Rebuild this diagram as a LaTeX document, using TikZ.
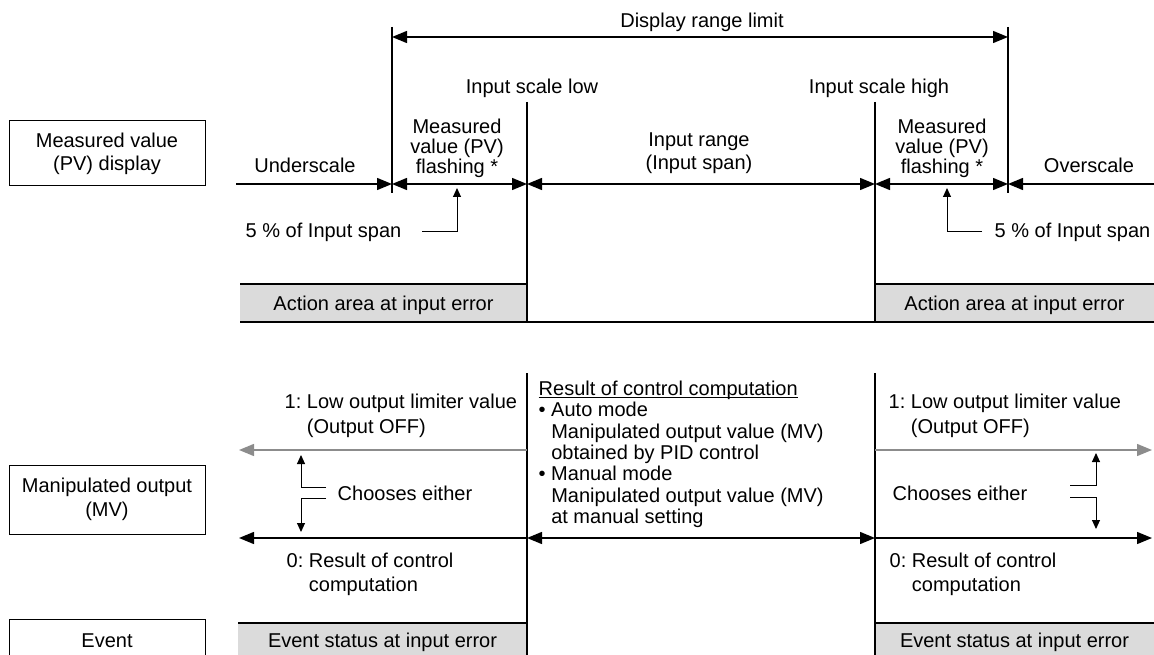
\documentclass[tikz,border=0pt]{standalone}
\usepackage{fontspec}
\setmainfont{Liberation Sans}
\usetikzlibrary{arrows.meta}
\definecolor{boxgray}{gray}{0.86}
\definecolor{arrowgray}{gray}{0.55}
\newcommand{\myuline}[1]{\setbox0=\hbox{#1}\leavevmode\rlap{\rule[-2.5pt]{\wd0}{1.2pt}}\box0}
\frenchspacing
\begin{document}
\begin{tikzpicture}[x=1pt,y=-1pt,line width=1.4pt,
  every node/.style={font=\fontsize{20}{23}\selectfont},
  lbl/.style={inner sep=0pt},
  labelbox/.style={draw,line width=1pt,minimum width=196pt,align=center,inner sep=0pt},
  tipend/.style={-{Triangle[length=15pt,width=12pt]}},
  tipboth/.style={{Triangle[length=15pt,width=12pt]}-{Triangle[length=15pt,width=12pt]}},
  tipsmall/.style={line width=1pt,-{Triangle[length=9pt,width=8pt]}},
  fillarea/.style={fill=boxgray}]
\useasboundingbox (0,0) rectangle (1154,655);

% gray areas
\fill[fillarea] (240,284) rectangle (527,322);
\fill[fillarea] (875,284) rectangle (1154,322);
\fill[fillarea] (238,623) rectangle (527,656);
\fill[fillarea] (875,623) rectangle (1154,656);
\draw[line width=1.2pt] (240,284) -- (527,284);
\draw[line width=1.2pt] (875,284) -- (1154,284);
\draw[line width=1.2pt] (240,322) -- (1154,322);
\draw[line width=1.2pt] (238,623) -- (527,623);
\draw[line width=1.2pt] (875,623) -- (1154,623);

% row label boxes
\node[labelbox,minimum height=65pt] (pvbox) at (107,153.5) {Measured value\\(PV) display};
\node[labelbox,minimum height=69pt,font=\fontsize{20}{24}\selectfont] (mvbox) at (107,499.5) {Manipulated output\\(MV)};
\draw[line width=1pt] (9,656) |- (205,619) -- (205,656);
\node[lbl,anchor=base] (event) at (107,647) {Event};

% vertical lines
\draw (392,27) -- (392,193);
\draw (1008,27) -- (1008,193);
\draw (527,102) -- (527,322);
\draw (875,102) -- (875,322);
\draw (527,373) -- (527,656);
\draw (875,373) -- (875,656);

% top arrows
\draw[tipboth] (392,37) -- (1008,37);
\draw[tipend] (236,184) -- (392,184);
\draw[tipboth] (392,184) -- (527,184);
\draw[tipboth] (527,184) -- (875,184);
\draw[tipboth] (875,184) -- (1008,184);
\draw[tipend] (1154,184) -- (1008,184);
\draw[tipsmall] (422,232) -| (457,188);
\draw[tipsmall] (982,232) -| (947,188);

% top texts
\node[lbl,anchor=base] (drl) at (702,27.5) {Display range limit};
\node[lbl,anchor=base] (isl) at (532,94) {Input scale low};
\node[lbl,anchor=base] (ish) at (879,94) {Input scale high};
\node[lbl,anchor=base] (under) at (305,173) {Underscale};
\node[lbl,anchor=base] (over) at (1089,173) {Overscale};
\node[lbl,anchor=north,align=center,font=\fontsize{20}{20}\selectfont] (flashl) at (457,118.5) {Measured\\value (PV)\\flashing *};
\node[lbl,anchor=north,align=center,font=\fontsize{20}{20}\selectfont] (flashr) at (942,118.5) {Measured\\value (PV)\\flashing *};
\node[lbl,anchor=north,align=center] (irange) at (699,131.7) {Input range\\(Input span)};
\node[lbl,anchor=base west] (spanl) at (245,238) {5 \% of Input span};
\node[lbl,anchor=base west] (spanr) at (994,238) {5 \% of Input span};
\node[lbl,anchor=base] (actl) at (383.5,310) {Action area at input error};
\node[lbl,anchor=base] (actr) at (1014.5,310) {Action area at input error};

% lower arrows
\draw[arrowgray,tipend] (527,450) -- (239,450);
\draw[arrowgray,tipend] (875,450) -- (1152,450);
\draw[tipend] (527,538) -- (239,538);
\draw[tipboth] (527,538) -- (875,538);
\draw[tipend] (875,538) -- (1152,538);
\draw[tipsmall] (326,487) -| (301,455);
\draw[tipsmall] (326,498) -| (301,532);
\draw[tipsmall] (1070,485) -| (1096,453);
\draw[tipsmall] (1070,497) -| (1096,529);

% lower texts
\node[lbl,anchor=north west,align=left,font=\fontsize{20}{25}\selectfont] (lowl) at (284,393.5) {1: Low output limiter value\\\hphantom{1: }(Output OFF)};
\node[lbl,anchor=north west,align=left,font=\fontsize{20}{25}\selectfont] (lowr) at (888,393.5) {1: Low output limiter value\\\hphantom{1: }(Output OFF)};
\node[lbl,anchor=base west] (choosel) at (337,500) {Chooses either};
\node[lbl,anchor=base west] (chooser) at (892,500) {Chooses either};
\node[lbl,anchor=north west,align=left,font=\fontsize{20}{24}\selectfont] (resl) at (286,552.5) {0: Result of control\\\hphantom{0: }computation};
\node[lbl,anchor=north west,align=left,font=\fontsize{20}{24}\selectfont] (resr) at (889,552.5) {0: Result of control\\\hphantom{0: }computation};
\node[lbl,anchor=north west,align=left,font=\fontsize{20}{21.3}\selectfont] (mid) at (538,380.5) {\myuline{Result of control computation}\\•\ Auto mode\\\hphantom{•\ }Manipulated output value (MV)\\\hphantom{•\ }obtained by PID control\\•\ Manual mode\\\hphantom{•\ }Manipulated output value (MV)\\\hphantom{•\ }at manual setting};
\node[lbl,anchor=base] (evl) at (382.5,647) {Event status at input error};
\node[lbl,anchor=base] (evr) at (1014.5,647) {Event status at input error};
\end{tikzpicture}
\end{document}
